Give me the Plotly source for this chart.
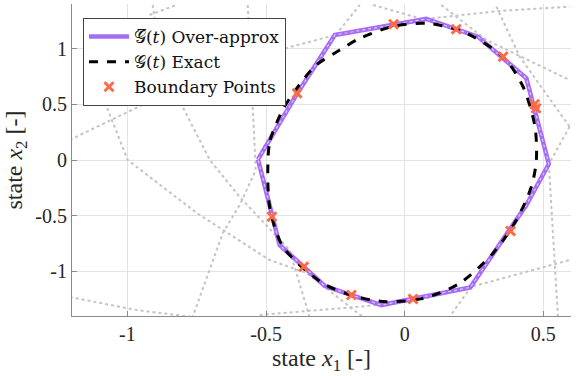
import plotly.graph_objects as go

# ---- data ----
over_x = [-0.529, -0.391, -0.252, 0.078, 0.264, 0.439, 0.520, 0.439, 0.237, -0.084, -0.288, -0.451, -0.529]
over_y = [0.006, 0.583, 1.122, 1.266, 1.107, 0.733, -0.036, -0.404, -1.143, -1.302, -1.131, -0.763, 0.006]

exact_x = [-0.493, -0.485, -0.440, -0.390, -0.320, -0.234, -0.162, -0.040, 0.078, 0.210, 0.355, 0.427, 0.470,
           0.475, 0.457, 0.403, 0.318, 0.198, 0.066, -0.066, -0.174, -0.295, -0.439, -0.487, -0.493]
exact_y = [0.000, 0.180, 0.449, 0.640, 0.850, 0.987, 1.092, 1.200, 1.227, 1.152, 0.927, 0.658, 0.299,
           0.000, -0.240, -0.539, -0.838, -1.107, -1.242, -1.272, -1.227, -1.107, -0.778, -0.419, 0.000]

pts_x = [-0.040, 0.186, 0.355, 0.469, 0.474, 0.382, 0.030, -0.192, -0.364, -0.479, -0.388]
pts_y = [1.218, 1.173, 0.927, 0.500, 0.464, -0.637, -1.248, -1.212, -0.958, -0.509, 0.599]

# background dotted curves (each a list of x and y values)
bg_curves = [
    ([-1.208, -0.859, -0.415, -0.249, 0.078, 0.343, 0.595], [0.180, 0.599, 1.014, 1.122, 1.266, 1.338, 1.376]),
    ([-0.566, -0.548, -0.537, -0.595, -0.656, -0.765], [1.391, 0.539, -0.090, -0.404, -0.655, -1.409]),
    ([-1.089, -0.999, -0.750, -0.487, -0.353, -0.151], [0.566, 0.000, -0.476, -0.898, -1.014, -1.409]),
    ([-0.909, -0.884, -0.819, -0.703, -0.595, -0.516, -0.415, -0.343], [1.391, 0.987, 0.566, 0.000, -0.332, -0.539, -0.808, -1.409]),
    ([-1.208, -0.966, -0.765], [-1.230, -1.347, -1.409]),
    ([-0.523, -0.162, 0.054, 0.238, 0.595], [-1.391, -1.317, -1.257, -1.140, -0.898]),
    ([0.132, 0.295, 0.595], [1.391, 1.077, 0.718]),
    ([0.331, 0.415, 0.595], [1.376, 0.927, 0.299]),
    ([0.595, 0.520], [0.299, -0.036]),
    ([0.520, 0.553], [-0.036, -1.407]),
    ([0.240, 0.162], [-1.137, -1.407]),
    ([-0.249, -0.162], [1.122, 1.391]),
    ([-0.114, 0.054], [1.391, 1.272]),
    ([-0.920, -0.824], [1.301, 1.391]),
]

xtick_vals = [-1, -0.5, 0, 0.5]
xtick_text = ["-1", "-0.5", "0", "0.5"]
ytick_vals = [-1, -0.5, 0, 0.5, 1]
ytick_text = ["-1", "-0.5", "0", "0.5", "1"]

FONT = "Liberation Serif"
LEG_FONT = "DejaVu Serif"

fig = go.Figure()
for bx, by in bg_curves:
    fig.add_trace(go.Scatter(x=bx, y=by, mode="lines", showlegend=False, hoverinfo="skip",
                             line=dict(color="#c4c4c4", width=2, dash="dot")))

fig.add_trace(go.Scatter(x=over_x, y=over_y, mode="lines", name="𝒢̅(<i>t</i>) Over-approx",
                         line=dict(color="#a66cf5", width=4.5)))
fig.add_trace(go.Scatter(x=over_x, y=over_y, mode="lines", showlegend=False, hoverinfo="skip",
                         line=dict(color="#dcc8fb", width=1.2, dash="dot")))
fig.add_trace(go.Scatter(x=exact_x, y=exact_y, mode="lines", name="𝒢(<i>t</i>) Exact",
                         line=dict(color="black", width=3, dash="dash", shape="spline", smoothing=0.8)))
fig.add_trace(go.Scatter(x=pts_x, y=pts_y, mode="markers", name="Boundary Points",
                         marker=dict(symbol="x-thin", size=9, line=dict(width=3, color="#ff6a45"))))

axis_common = dict(showgrid=True, gridcolor="#e3e3e3", gridwidth=1, zeroline=False,
                   showline=True, linecolor="#8a8a8a", linewidth=1,
                   ticks="inside", ticklen=5, tickcolor="#8a8a8a",
                   tickfont=dict(family=FONT, size=20, color="#262626"), mirror=False)

fig.update_xaxes(range=[-1.2, 0.6], tickvals=xtick_vals, ticktext=xtick_text,
                 title=dict(text="state <i>x</i><sub>1</sub> [-]", font=dict(family=FONT, size=24, color="#262626"), standoff=1),
                 **axis_common)
fig.update_yaxes(range=[-1.4, 1.4], tickvals=ytick_vals, ticktext=ytick_text,
                 title=dict(text="state <i>x</i><sub>2</sub> [-]", font=dict(family=FONT, size=24, color="#262626"), standoff=5),
                 **axis_common)

fig.update_layout(
    width=581, height=376,
    margin=dict(l=72, r=10, t=4, b=60),
    paper_bgcolor="white", plot_bgcolor="white",
    showlegend=True,
    legend=dict(x=0.022, y=0.955, xanchor="left", yanchor="top",
                bgcolor="white", bordercolor="#444444", borderwidth=1,
                font=dict(family=LEG_FONT, size=17, color="#111111"),
                tracegroupgap=0, itemwidth=40),
)

fig.write_html("out.html", config={"displayModeBar": False},
               post_script="document.body.style.margin='0';")
